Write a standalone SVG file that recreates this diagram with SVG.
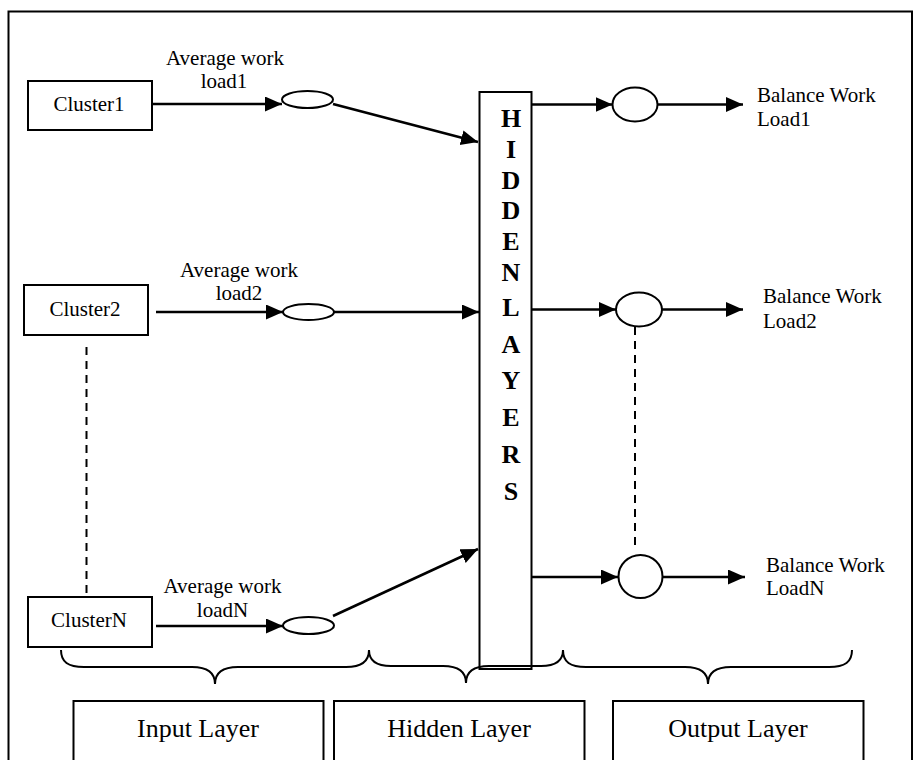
<svg xmlns="http://www.w3.org/2000/svg" width="914" height="760" viewBox="0 0 914 760">
<style>
  .box { fill: #fff; stroke: #000; stroke-width: 2; }
  .oval { fill: #fff; stroke: #000; stroke-width: 2; }
  .lbl { font-family: "Liberation Serif", "Times New Roman", serif; font-size: 21px; fill: #000; }
  .big { font-family: "Liberation Serif", "Times New Roman", serif; font-size: 26px; fill: #000; text-anchor: middle; }
  .hl { font-family: "Liberation Serif", "Times New Roman", serif; font-size: 26px; font-weight: bold; fill: #000; text-anchor: middle; }
  .arr { fill: none; stroke: #000; stroke-width: 2.6; marker-end: url(#ah); }
  .dash { fill: none; stroke: #000; stroke-width: 2; stroke-dasharray: 8 6; }
  .brace { fill: none; stroke: #000; stroke-width: 2; }
  .mid { text-anchor: middle; }
</style>
<defs>
  <marker id="ah" markerUnits="userSpaceOnUse" markerWidth="18" markerHeight="16" refX="17" refY="7.5" orient="auto">
    <path d="M0,0 L17,7.5 L0,15 z" fill="#000"/>
  </marker>
</defs>
<rect width="914" height="760" fill="#fff"/>
<rect id="frame" x="8.5" y="11.5" width="903.5" height="780" fill="none" stroke="#000" stroke-width="2"/>

<g id="cluster1">
  <rect class="box" x="28" y="81" width="124" height="49"/>
  <text class="lbl mid" x="89" y="111">Cluster1</text>
</g>
<g id="cluster2">
  <rect class="box" x="24" y="285" width="124" height="50"/>
  <text class="lbl mid" x="85" y="316">Cluster2</text>
</g>
<g id="clusterN">
  <rect class="box" x="28" y="597" width="124" height="50"/>
  <text class="lbl mid" x="89" y="627">ClusterN</text>
</g>

<g id="in1"><ellipse class="oval" cx="307.5" cy="99.5" rx="25.5" ry="8.5"/></g>
<g id="in2"><ellipse class="oval" cx="308.5" cy="312" rx="25.5" ry="8"/></g>
<g id="inN"><ellipse class="oval" cx="308.5" cy="625.5" rx="25.5" ry="8.5"/></g>

<g id="hidden">
  <rect class="box" x="479.5" y="92" width="52" height="577"/>
  <text class="hl" x="511" y="127">H</text>
  <text class="hl" x="511" y="158">I</text>
  <text class="hl" x="511" y="189">D</text>
  <text class="hl" x="511" y="219">D</text>
  <text class="hl" x="511" y="250">E</text>
  <text class="hl" x="511" y="281">N</text>
  <text class="hl" x="511" y="316">L</text>
  <text class="hl" x="511" y="353">A</text>
  <text class="hl" x="511" y="389">Y</text>
  <text class="hl" x="511" y="426">E</text>
  <text class="hl" x="511" y="463">R</text>
  <text class="hl" x="511" y="500">S</text>
</g>

<g id="out1"><ellipse class="oval" cx="635" cy="104.5" rx="22.5" ry="17"/></g>
<g id="out2"><ellipse class="oval" cx="639" cy="309.5" rx="23" ry="17"/></g>
<g id="outN"><ellipse class="oval" cx="640.5" cy="576.5" rx="22" ry="21.5"/></g>

<g id="labels">
  <text class="lbl mid" x="225" y="65">Average work</text>
  <text class="lbl mid" x="224" y="88">load1</text>
  <text class="lbl mid" x="239" y="277">Average work</text>
  <text class="lbl mid" x="239" y="300">load2</text>
  <text class="lbl mid" x="222.5" y="593">Average work</text>
  <text class="lbl mid" x="222.5" y="617">loadN</text>
  <text class="lbl" x="757" y="102">Balance Work</text>
  <text class="lbl" x="757" y="126">Load1</text>
  <text class="lbl" x="763" y="303">Balance Work</text>
  <text class="lbl" x="763" y="328">Load2</text>
  <text class="lbl" x="766" y="572">Balance Work</text>
  <text class="lbl" x="766" y="595">LoadN</text>
</g>

<g id="connectors">
  <line class="arr" x1="152" y1="104" x2="282" y2="104"/>
  <line class="arr" x1="333" y1="104" x2="478" y2="142"/>
  <line class="arr" x1="156" y1="312" x2="283" y2="312"/>
  <line class="arr" x1="334" y1="312" x2="479" y2="312"/>
  <line class="arr" x1="156" y1="626" x2="283" y2="626"/>
  <line class="arr" x1="333" y1="616" x2="478" y2="549"/>
  <line class="arr" x1="531.5" y1="104.5" x2="612.5" y2="104.5"/>
  <line class="arr" x1="657.5" y1="104.5" x2="743" y2="104.5"/>
  <line class="arr" x1="531.5" y1="309.5" x2="616" y2="309.5"/>
  <line class="arr" x1="662" y1="309.5" x2="743" y2="309.5"/>
  <line class="arr" x1="531.5" y1="577" x2="618" y2="577"/>
  <line class="arr" x1="662.5" y1="577" x2="745" y2="577"/>
  <line class="dash" x1="86.5" y1="347" x2="86.5" y2="596"/>
  <line class="dash" x1="635" y1="327" x2="635" y2="551"/>
</g>

<g id="braces">
  <path class="brace" d="M61,650 C61,662 68,667 84,667 L192,667 C207,667 215,673 215,684 C215,673 223,667 238,667 L346,667 C361,667 369,662 369,650"/>
  <path class="brace" d="M369,650 C369,661 376,666 391,666 L443,666 C458,666 466,672 466,683 C466,672 474,666 489,666 L541,666 C556,666 563,661 563,650"/>
  <path class="brace" d="M563,650 C563,662 570,667 586,667 L685,667 C700,667 708,673 708,684 C708,673 716,667 731,667 L829,667 C845,667 852,662 852,650"/>
</g>

<g id="inputLayer">
  <rect class="box" x="73.5" y="701" width="250" height="80"/>
  <text class="big" x="198" y="737">Input Layer</text>
</g>
<g id="hiddenLayer">
  <rect class="box" x="334" y="701" width="250.5" height="80"/>
  <text class="big" x="459" y="737">Hidden Layer</text>
</g>
<g id="outputLayer">
  <rect class="box" x="613" y="701" width="250.5" height="80"/>
  <text class="big" x="738" y="737">Output Layer</text>
</g>
</svg>
